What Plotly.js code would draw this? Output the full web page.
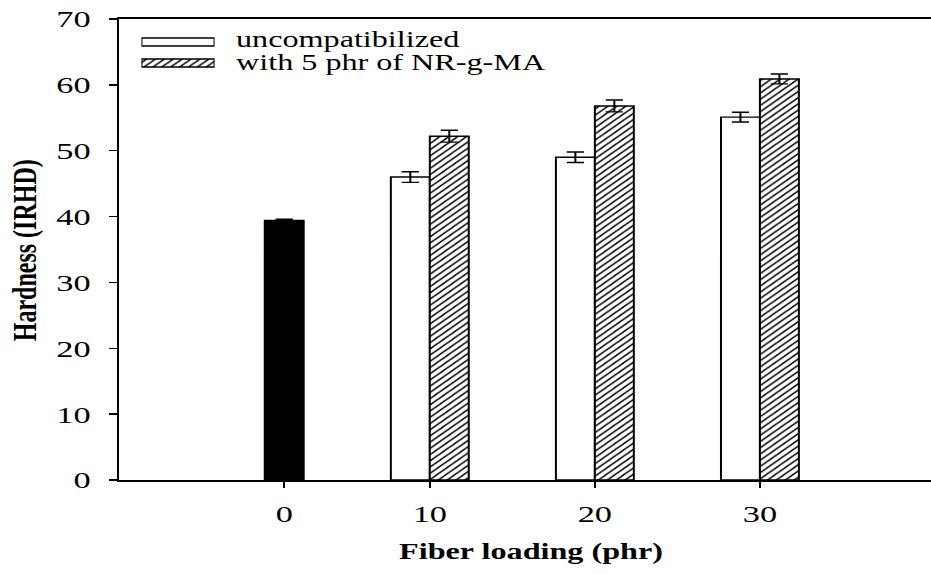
<!DOCTYPE html>
<html>
<head>
<meta charset="utf-8">
<script src="https://cdn.plot.ly/plotly-3.0.1.min.js"></script>
<style>
  html, body { margin: 0; padding: 0; background: #ffffff; overflow: hidden; }
  /* The figure is laid out narrow and widened to its final 931px aspect */
  #chart { width: 651px; height: 574px; transform: scaleX(1.4301); transform-origin: 0 0; }
</style>
</head>
<body>
<div id="chart"></div>
<script>
// Fiber loading levels (phr) shown on the x axis
const loadingLabels = ['0', '10', '20', '30'];

// Unfilled compound (no fiber)
const controlHardness = [39.4];
const controlError = [0.2];

// Filled compounds at 10, 20 and 30 phr
const filledLoading = ['10', '20', '30'];
const uncompatibilized = [46.0, 49.0, 55.1];
const uncompatibilizedError = [0.8, 0.8, 0.75];
const compatibilized = [52.2, 56.8, 60.9];
const compatibilizedError = [0.9, 0.9, 0.75];

// Legend entries
const legendNames = ['uncompatibilized', 'with 5 phr of NR-g-MA'];

const serif = '"Liberation Serif", "Times New Roman", Times, serif';
const W = 651, H = 574;
const ml = 83.2, mt = 19, mb = 94;
const plotW = W - ml, plotH = H - mt - mb;

const barWidth = 0.236;          // in group units
const outline = { color: '#000000', width: 1.4 };
const hatch = { shape: '/', fgcolor: '#000000', bgcolor: '#ffffff', size: 4.4, solidity: 0.3 };

// Group slot for each fiber loading
const groupIndex = lab => loadingLabels.indexOf(lab);
const filledPos = filledLoading.map(groupIndex);

const errStyle = { type: 'data', color: '#000000', thickness: 1.4, width: 6, visible: true };

const traces = [
  {
    type: 'bar', name: 'control',
    x: [groupIndex('0')], y: controlHardness,
    offset: 0, width: barWidth,
    marker: { color: '#000000', line: outline },
    error_y: Object.assign({ array: controlError }, errStyle),
    showlegend: false, hoverinfo: 'y'
  },
  {
    type: 'bar', name: legendNames[0],
    x: filledPos, y: uncompatibilized,
    offset: -barWidth, width: barWidth,
    marker: { color: '#ffffff', line: outline },
    error_y: Object.assign({ array: uncompatibilizedError }, errStyle),
    showlegend: false, hoverinfo: 'y'
  },
  {
    type: 'bar', name: legendNames[1],
    x: filledPos, y: compatibilized,
    offset: 0, width: barWidth,
    marker: { color: '#ffffff', line: outline, pattern: hatch },
    error_y: Object.assign({ array: compatibilizedError }, errStyle),
    showlegend: false, hoverinfo: 'y'
  },
  // Legend swatches drawn on a small inset axis
  {
    type: 'bar', orientation: 'h', xaxis: 'x2', yaxis: 'y2',
    x: [1], y: [0], width: 0.38,
    marker: { color: '#ffffff', line: outline },
    showlegend: false, hoverinfo: 'skip'
  },
  {
    type: 'bar', orientation: 'h', xaxis: 'x2', yaxis: 'y2',
    x: [1], y: [1], width: 0.38,
    marker: { color: '#ffffff', line: outline, pattern: hatch },
    showlegend: false, hoverinfo: 'skip'
  }
];

const tickPositions = loadingLabels.map((lab, i) => lab === '0' ? i + barWidth / 2 : i);

// paper fractions from positions in the final (widened) figure
const px = x => (x - 119) / 812;
const py = y => (480 - y) / plotH;

const layout = {
  width: W, height: H,
  margin: { l: ml, r: 0, t: mt, b: mb },
  paper_bgcolor: '#ffffff', plot_bgcolor: '#ffffff',
  font: { family: serif, color: '#000000', size: 22 },
  showlegend: false,
  bargap: 0,
  xaxis: {
    range: [-0.8848, 4.0364],
    tickmode: 'array', tickvals: tickPositions, ticktext: loadingLabels,
    ticks: 'outside', ticklen: 6, tickwidth: 1.2, tickcolor: '#000000',
    showline: true, linewidth: 1.6, linecolor: '#000000', mirror: true,
    showgrid: false, zeroline: false,
    tickfont: { family: serif, size: 24 },
    ticklabelstandoff: 6
  },
  yaxis: {
    range: [0, 70], dtick: 10, tick0: 0,
    ticks: 'outside', ticklen: 5.6, tickwidth: 1.5, tickcolor: '#000000',
    showline: true, linewidth: 1.2, linecolor: '#000000',
    showgrid: false, zeroline: false,
    tickfont: { family: serif, size: 24 },
    ticklabelstandoff: 8
  },
  xaxis2: {
    domain: [0.028, 0.118], range: [0, 1], anchor: 'y2',
    visible: false, fixedrange: true
  },
  yaxis2: {
    domain: [0.8818, 0.9729], range: [1.5, -0.5], anchor: 'x2',
    visible: false, fixedrange: true
  },
  annotations: [
    {
      text: legendNames[0], xref: 'paper', yref: 'paper',
      x: px(233), y: py(40),
      xanchor: 'left', yanchor: 'middle', showarrow: false,
      font: { family: serif, size: 22.5 }
    },
    {
      text: legendNames[1], xref: 'paper', yref: 'paper',
      x: px(233), y: py(62),
      xanchor: 'left', yanchor: 'middle', showarrow: false,
      font: { family: serif, size: 22.5 }
    },
    {
      text: '<b>Fiber loading (phr)</b>', xref: 'paper', yref: 'paper',
      x: px(531), y: py(551),
      xanchor: 'center', yanchor: 'middle', showarrow: false,
      font: { family: serif, size: 22.5 }
    },
    {
      text: '<b>Hardness (IRHD)</b>', xref: 'paper', yref: 'paper',
      x: px(25), y: py(250),
      xanchor: 'center', yanchor: 'middle', showarrow: false, textangle: -90,
      font: { family: serif, size: 24 }
    }
  ]
};

Plotly.newPlot('chart', traces, layout, { displayModeBar: false, staticPlot: true });
</script>
</body>
</html>
